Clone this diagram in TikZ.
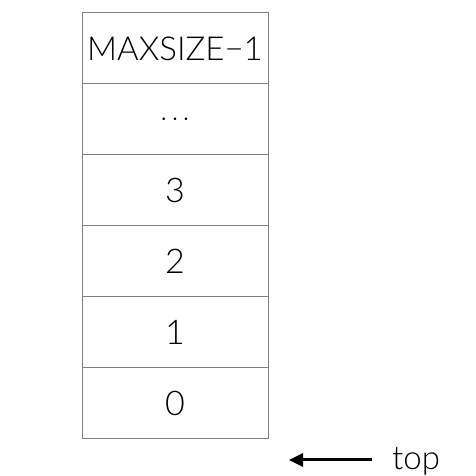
\documentclass[tikz,border=0pt]{standalone}
\usepackage{fontspec}
\setmainfont{Lato}[UprightFont=* Light]
\usetikzlibrary{positioning, arrows.meta}

\begin{document}
\begin{tikzpicture}[x=1pt, y=1pt,
                    cell/.style={draw=gray, line width=1pt, outer sep=0pt, inner sep=0pt,
                                 minimum width=186pt, minimum height=71pt,
                                 font=\fontsize{34}{40}\selectfont},
                    arrow/.style={-{Triangle[length=14pt, width=13pt]}, line width=3pt}
                    ]
    \useasboundingbox (0,0) rectangle (476,476);

    \node[cell] (s0) at (175,72.5) {0};
    \node[cell, above=0pt of s0] (s1) {1};
    \node[cell, above=0pt of s1] (s2) {2};
    \node[cell, above=0pt of s2] (s3) {3};
    \node[cell, above=0pt of s3] (dots) {$\cdots$};
    \node[cell, above=0pt of dots, font=\fontsize{33}{40}\selectfont] (smax) {MAXSIZE−1};

    \coordinate (tail) at (372,16);
    \coordinate (tip) at (289,16);
    \node[anchor=base west, inner sep=0pt, font=\fontsize{33}{40}\selectfont] (top) at (392,6) {top};
    \draw[arrow] (tail) -- (tip);
\end{tikzpicture}
\end{document}
